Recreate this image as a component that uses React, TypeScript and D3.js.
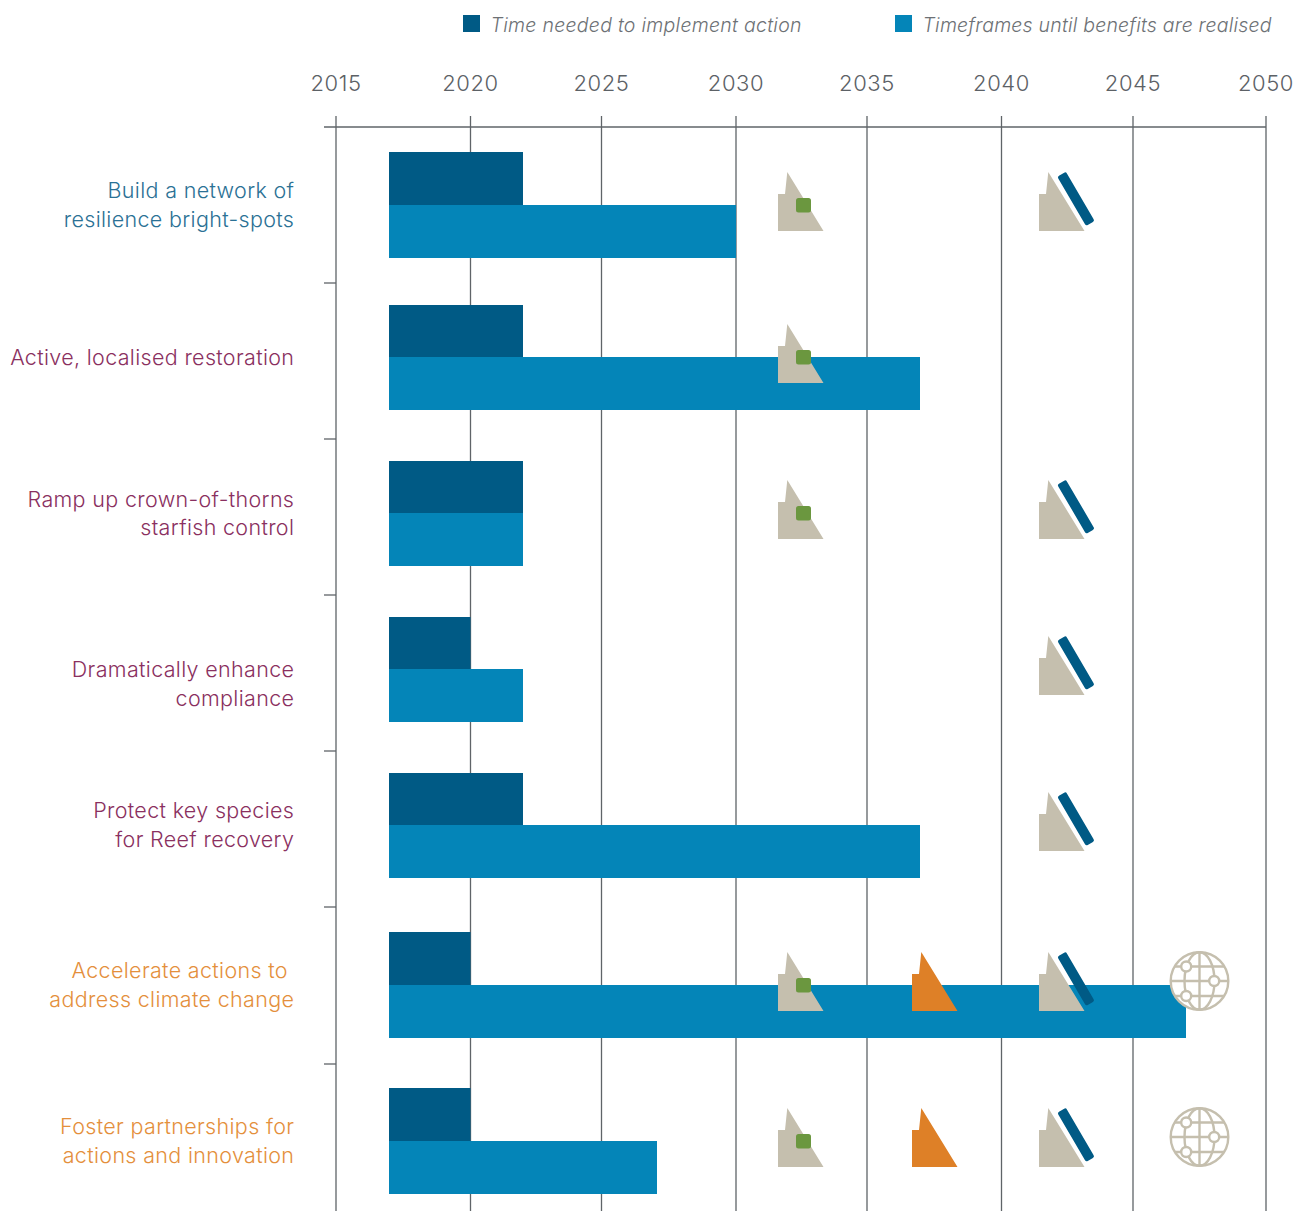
import * as d3 from 'd3';

const YEARS = [2015, 2020, 2025, 2030, 2035, 2040, 2045, 2050];
const ACTION_LINES = [
  ['Build a network of', 'resilience bright-spots'],
  ['Active, localised restoration'],
  ['Ramp up crown-of-thorns', 'starfish control'],
  ['Dramatically enhance', 'compliance'],
  ['Protect key species', 'for Reef recovery'],
  ['Accelerate actions to\u00a0', 'address climate change'],
  ['Foster partnerships for', 'actions and innovation'],
];
const ACTION_GROUP = ['teal', 'plum', 'plum', 'plum', 'plum', 'orange', 'orange'];
const START_YEAR = [2017, 2017, 2017, 2017, 2017, 2017, 2017];
const IMPLEMENT_END = [2022, 2022, 2022, 2020, 2022, 2020, 2020];
const BENEFIT_END = [2030, 2037, 2022, 2022, 2037, 2047, 2027];
const ICONS = [
  ['local', 'reef'],
  ['local'],
  ['local', 'reef'],
  ['reef'],
  ['reef'],
  ['local', 'regional', 'reef', 'global'],
  ['local', 'regional', 'reef', 'global'],
];
const LEGEND = ['Time needed to implement action', 'Timeframes until benefits are realised'];

const FONT = 'Inter, Lato, sans-serif';
const DARK = '#005a85';
const BLUE = '#0485b8';
const SAND = '#c5bfae';
const ORANGE = '#de8027';
const LINE = '#5f6468';
const TEXT_COLORS: Record<string, string> = { teal: '#2b7195', plum: '#8a3060', orange: '#e48f3c' };

// the gridlines in the picture are not evenly spaced, so the scale is pinned on the years used
const x = d3.scaleLinear(
  [2015, 2017, 2020, 2022, 2025, 2027, 2030, 2035, 2037, 2040, 2045, 2047, 2050],
  [336, 389, 470.5, 523, 601.5, 657, 736, 867, 920, 1001.5, 1133, 1186, 1266],
);
const rowKeys = d3.range(ACTION_LINES.length);
const rowMid = d3.scaleOrdinal<number, number>(rowKeys, [205, 357, 513, 669, 825, 985, 1141]);
const rowTop = d3.scaleOrdinal<number, number>(rowKeys, [152, 305, 461, 617, 773, 932, 1088]);
const labelBaseline = d3.scaleOrdinal<number, number>(rowKeys, [198, 365, 507, 677, 818, 978, 1134]);
const separators = [127, 283, 439, 595, 751, 907, 1064];
const iconX: Record<string, number> = { local: 778, regional: 912, reef: 1039, global: 1170 };

const PEAK = 'M9.3 -59 L7 -37 L0 -37 L0 0 L45.5 0 Z';

function Icon({ type, left, base }: { type: string; left: number; base: number }) {
  if (type === 'global') {
    const r = 28.8;
    const nodes = [[-13.3, -14.5], [14.7, 0], [-13.3, 15]];
    return (
      <g transform={`translate(${left + 29.5},${base - 30})`} fill="none" stroke={SAND} strokeWidth="2.4">
        <circle r={r} fill="#fff" />
        <ellipse rx={15} ry={r} />
        <line x1={0} y1={-r} x2={0} y2={r} />
        <line x1={-r} y1={0} x2={r} y2={0} />
        <path d="M-24.5 -14.5 L24.5 -14.5 M-24.5 15 L24.5 15" />
        {nodes.map(([cx, cy]) => (
          <circle key={cy} cx={cx} cy={cy} r={5} fill="#fff" />
        ))}
      </g>
    );
  }
  return (
    <g transform={`translate(${left},${base})`}>
      <path d={PEAK} fill={type === 'regional' ? ORANGE : SAND} />
      {type === 'local' && <rect x={18} y={-33} width={15} height={14.5} rx={2.5} fill="#6b973f" />}
      {type === 'reef' && (
        <rect x={-5} y={-27} width={10} height={57} rx={2} fill={DARK} transform="translate(36.2,-33.5) rotate(-30.3)" />
      )}
    </g>
  );
}

export default function App() {
  return (
    <svg
      width={1298}
      height={1211}
      viewBox="0 0 1298 1211"
      style={{ position: 'absolute', left: 0, top: 0, fontFamily: FONT }}
    >
      <rect width={1298} height={1211} fill="#fff" />

      {/* legend */}
      {LEGEND.map((label, i) => (
        <g key={label} transform={`translate(${i === 0 ? 463 : 895},15)`}>
          <rect width={17} height={17} fill={i === 0 ? DARK : BLUE} />
          <text x={27.5} y={17} fontSize={19.5} fontStyle="italic" fontWeight={300} letterSpacing={i === 0 ? 0.27 : 0.2} fill="#6d7175">
            {label}
          </text>
        </g>
      ))}

      {/* axis */}
      {YEARS.map((year) => (
        <g key={year}>
          <line x1={x(year)} x2={x(year)} y1={116} y2={1211} stroke={LINE} strokeWidth={1.3} />
          <text x={x(year)} y={91} textAnchor="middle" fontSize={22} fontWeight={300} letterSpacing={0.6} fill="#5c6166">
            {year}
          </text>
        </g>
      ))}
      <line x1={324} x2={1266} y1={127} y2={127} stroke={LINE} strokeWidth={1.3} />
      {separators.slice(1).map((y) => (
        <line key={y} x1={324} x2={336} y1={y} y2={y} stroke={LINE} strokeWidth={1.3} />
      ))}

      {/* bars */}
      {rowKeys.map((i) => (
        <g key={i}>
          <rect x={x(START_YEAR[i])} y={rowTop(i)} width={x(IMPLEMENT_END[i]) - x(START_YEAR[i])} height={rowMid(i) - rowTop(i)} fill={DARK} />
          <rect x={x(START_YEAR[i])} y={rowMid(i)} width={x(BENEFIT_END[i]) - x(START_YEAR[i])} height={53} fill={BLUE} />
        </g>
      ))}

      {/* icons */}
      {rowKeys.map((i) =>
        ICONS[i].map((type) => <Icon key={type} type={type} left={iconX[type]} base={rowMid(i) + 26} />),
      )}

      {/* row labels */}
      {rowKeys.map((i) => (
        <text key={i} textAnchor="end" fontSize={21.5} fontWeight={300} letterSpacing={0.33} fill={TEXT_COLORS[ACTION_GROUP[i]]}>
          {ACTION_LINES[i].map((line, n) => (
            <tspan key={line} x={294.3} y={labelBaseline(i) + n * (i === 2 ? 28 : 29)}>
              {line}
            </tspan>
          ))}
        </text>
      ))}
    </svg>
  );
}
